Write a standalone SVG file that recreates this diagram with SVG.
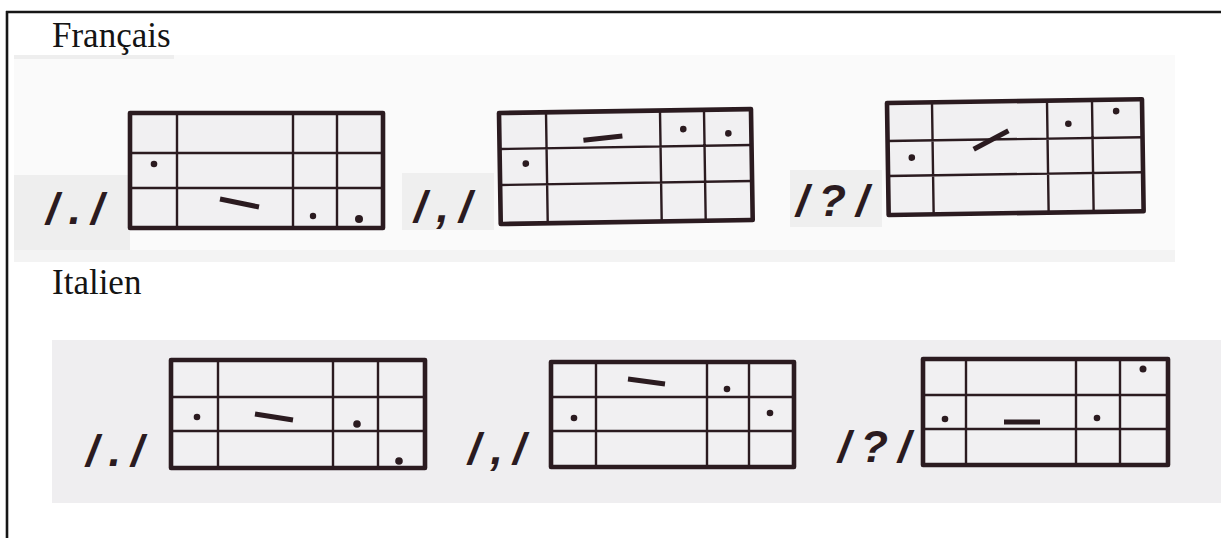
<svg xmlns="http://www.w3.org/2000/svg" width="1221" height="538" viewBox="0 0 1221 538">
  <style>
    .frame{stroke:#161616;stroke-width:2.6;fill:none}
    .outer{fill:#f1f0f2;stroke:#2b1b20;stroke-width:4.6;stroke-linejoin:round}
    .inner{stroke:#2b1b20;stroke-width:2.4;fill:none}
    .dot{fill:#2b1b20}
    .dash{stroke:#2b1b20;stroke-width:5;fill:none}
    .lbl{font-family:"Liberation Sans",Arial,sans-serif;font-style:italic;font-weight:bold;font-size:45px;fill:#2b1b20;letter-spacing:10px}
    .title{font-family:"Liberation Serif","Times New Roman",serif;font-size:35px;fill:#141414}
  </style>
  <rect x="0" y="0" width="1221" height="538" fill="#ffffff"/>
  <g id="frame">
    <line class="frame" x1="6" y1="12" x2="1221" y2="12"/>
    <line class="frame" x1="7" y1="11" x2="7" y2="538"/>
  </g>

  <g id="panel-francais">
    <rect x="14" y="55" width="1161" height="207" fill="#fafafa"/>
    <rect x="14" y="55" width="160" height="4" fill="#eeeeee"/>
    <rect x="14" y="175" width="116" height="85" fill="#eeeeee"/>
    <rect x="402" y="173" width="92" height="57" fill="#efefef"/>
    <rect x="790" y="170" width="92" height="57" fill="#efefef"/>
    <rect x="14" y="250" width="1161" height="12" fill="#f3f3f3"/>
  </g>
  <g id="panel-italien">
    <rect x="52" y="340" width="1169" height="163" fill="#efeef0"/>
  </g>

  <text class="title" x="52" y="47">Français</text>
  <text class="title" x="52" y="294">Italien</text>

  <!-- Français grids -->
  <g id="fr-point">
    <text class="lbl" x="46" y="224">/./</text>
    <rect class="outer" x="130" y="113" width="253" height="115"/>
    <path class="inner" d="M177 113V228M293 113V228M337 113V228M130 153H383M130 188H383"/>
    <circle class="dot" cx="154" cy="164" r="3.3"/>
    <line class="dash" x1="220" y1="199" x2="259" y2="207"/>
    <circle class="dot" cx="313" cy="216" r="3.2"/>
    <circle class="dot" cx="359" cy="219" r="4"/>
  </g>
  <g id="fr-virgule">
    <text class="lbl" x="414" y="222">/,/</text>
    <g transform="translate(499 113) rotate(-0.9)">
      <rect class="outer" x="0" y="0" width="252" height="111"/>
      <path class="inner" d="M47 0V111M161 0V111M205 0V111M0 36H252M0 72H252"/>
      <circle class="dot" cx="26" cy="51" r="3.3"/>
      <line class="dash" x1="84" y1="28.5" x2="123" y2="25"/>
      <circle class="dot" cx="184" cy="19" r="3.3"/>
      <circle class="dot" cx="229" cy="24" r="3.3"/>
    </g>
  </g>
  <g id="fr-question">
    <text class="lbl" x="796" y="216">/?/</text>
    <g transform="translate(887 103) rotate(-0.85)">
      <rect class="outer" x="0" y="0" width="255" height="112"/>
      <path class="inner" d="M45 0V112M160 0V112M205 0V112M0 38H255M0 73H255"/>
      <circle class="dot" cx="24" cy="55" r="3.3"/>
      <line class="dash" x1="86" y1="47.5" x2="121" y2="29.5"/>
      <circle class="dot" cx="181" cy="23.5" r="3.3"/>
      <circle class="dot" cx="229" cy="11.5" r="3.3"/>
    </g>
  </g>

  <!-- Italien grids -->
  <g id="it-point">
    <text class="lbl" x="86" y="466">/./</text>
    <rect class="outer" x="171" y="360" width="254" height="108"/>
    <path class="inner" d="M218 360V468M333 360V468M378 360V468M171 397H425M171 431H425"/>
    <circle class="dot" cx="197" cy="417" r="3.3"/>
    <line class="dash" x1="255" y1="414" x2="293" y2="420"/>
    <circle class="dot" cx="357" cy="424" r="3.8"/>
    <circle class="dot" cx="399" cy="461" r="3.8"/>
  </g>
  <g id="it-virgule">
    <text class="lbl" x="468" y="464">/,/</text>
    <rect class="outer" x="551" y="362" width="243" height="105"/>
    <path class="inner" d="M596 362V467M707 362V467M749 362V467M551 397H794M551 431H794"/>
    <line class="dash" x1="628" y1="379" x2="665" y2="384"/>
    <circle class="dot" cx="727" cy="389" r="3.3"/>
    <circle class="dot" cx="574" cy="418" r="3.3"/>
    <circle class="dot" cx="770" cy="413" r="3.3"/>
  </g>
  <g id="it-question">
    <text class="lbl" x="838" y="462">/?/</text>
    <rect class="outer" x="923" y="359" width="245" height="106"/>
    <path class="inner" d="M966 359V465M1076 359V465M1120 359V465M923 395H1168M923 429H1168"/>
    <circle class="dot" cx="1143" cy="369" r="3.5"/>
    <circle class="dot" cx="945" cy="419" r="3.3"/>
    <line class="dash" x1="1004" y1="422" x2="1040" y2="422"/>
    <circle class="dot" cx="1097" cy="418" r="3.3"/>
  </g>
</svg>
